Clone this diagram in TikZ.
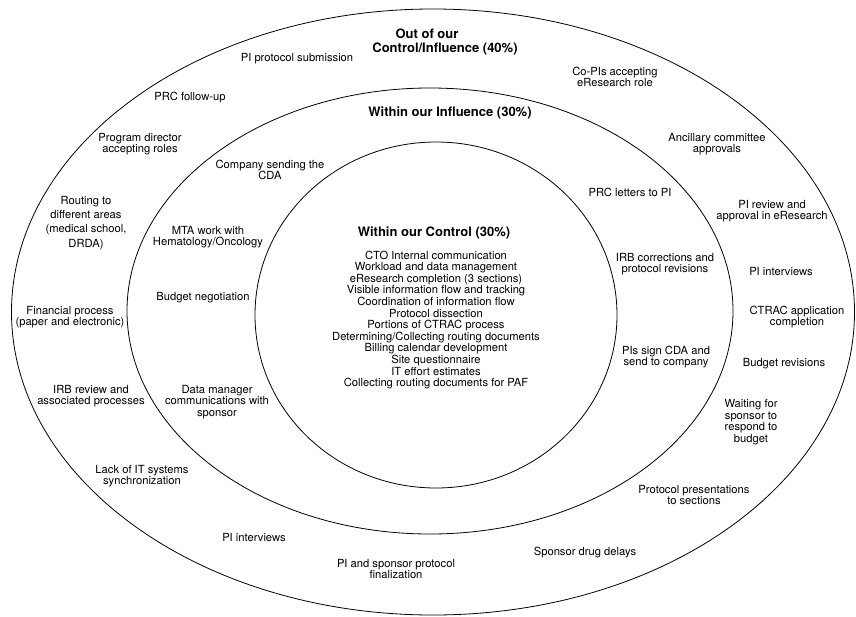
\documentclass[tikz,border=0pt]{standalone}
\usepackage{fontspec}
\setmainfont{TeX Gyre Heros}

\tikzset{
  ring/.style={draw, line width=0.8pt},
  item/.style={align=center, inner sep=0pt, font=\fontsize{11.2}{11.6}\selectfont},
  ringtitle/.style={align=center, inner sep=0pt, font=\fontsize{13}{14.5}\selectfont\bfseries}
}

\begin{document}
\begin{tikzpicture}[x=1pt, y=-1pt]
  \useasboundingbox (0,0) rectangle (856,616);

  %% the three rings, outermost first
  \draw [ring] (433,312) ellipse [x radius=421.5pt, y radius=303pt];
  \draw [ring] (430,311) ellipse [x radius=303pt, y radius=223pt];
  \draw [ring] (436,315) ellipse [x radius=181pt, y radius=173pt];

  %% titles of the rings
  \node [ringtitle] (outtitle) at (445,42) {Out of our\hspace*{36pt}\\Control/Influence (40\%)};
  \node [ringtitle] (inftitle) at (450,113) {Within our Influence (30\%)};
  \node [ringtitle] (ctltitle) at (434,233) {Within our Control (30\%)};

  %% inner ring: what we control
  \node [item] (ctllist) at (436,320) {CTO Internal communication\\
    Workload and data management\\
    eResearch completion (3 sections)\\
    Visible information flow and tracking\\
    Coordination of information flow\\
    Protocol dissection\\
    Portions of CTRAC process\\
    Determining/Collecting routing documents\\
    Billing calendar development\\
    Site questionnaire\\
    IT effort estimates\\
    Collecting routing documents for PAF};

  %% middle ring: what we influence
  \node [item] (cda)     at (270,170) {Company sending the\\CDA};
  \node [item] (mta)     at (208,237) {MTA work with\\Hematology/Oncology};
  \node [item] (budneg)  at (203,298) {Budget negotiation};
  \node [item] (datamgr) at (217,402) {Data manager\\communications with\\sponsor};
  \node [item] (prclet)  at (630,192) {PRC letters to PI};
  \node [item] (irbcor)  at (665,264) {IRB corrections and\\protocol revisions};
  \node [item] (pisign)  at (666,357) {PIs sign CDA and\\send to company};

  %% outer ring: out of our control
  \node [item] (pisub)    at (297,59)  {PI protocol submission};
  \node [item] (prcfol)   at (190,98)  {PRC follow-up};
  \node [item] (progdir)  at (140,144) {Program director\\accepting roles};
  \node [item] (routing)  at (86,223)  {Routing to\\[2.5pt]different areas\\[2.5pt](medical school,\\[2.5pt]DRDA)};
  \node [item] (finproc)  at (70,317)  {Financial process\\(paper and electronic)};
  \node [item] (irbrev)   at (91,396)  {IRB review and\\associated processes};
  \node [item] (lackit)   at (142,476) {Lack of IT systems\\synchronization};
  \node [item] (piintl)   at (254,537) {PI interviews};
  \node [item] (pifinal)  at (396,569) {PI and sponsor protocol\\finalization};
  \node [item] (drug)     at (585,553) {Sponsor drug delays};
  \node [item] (present)  at (694,495) {Protocol presentations\\to sections};
  \node [item] (waiting)  at (751,422) {Waiting for\\sponsor to\\respond to\\budget};
  \node [item] (budrev)   at (784,364) {Budget revisions};
  \node [item] (ctrac)    at (797,317) {CTRAC application\\completion};
  \node [item] (piintr)   at (781,271) {PI interviews};
  \node [item] (pireview) at (772,211) {PI review and\\approval in eResearch};
  \node [item] (ancil)    at (717,144) {Ancillary committee\\approvals};
  \node [item] (copis)    at (615,77)  {Co-PIs accepting\\eResearch role};
\end{tikzpicture}
\end{document}
